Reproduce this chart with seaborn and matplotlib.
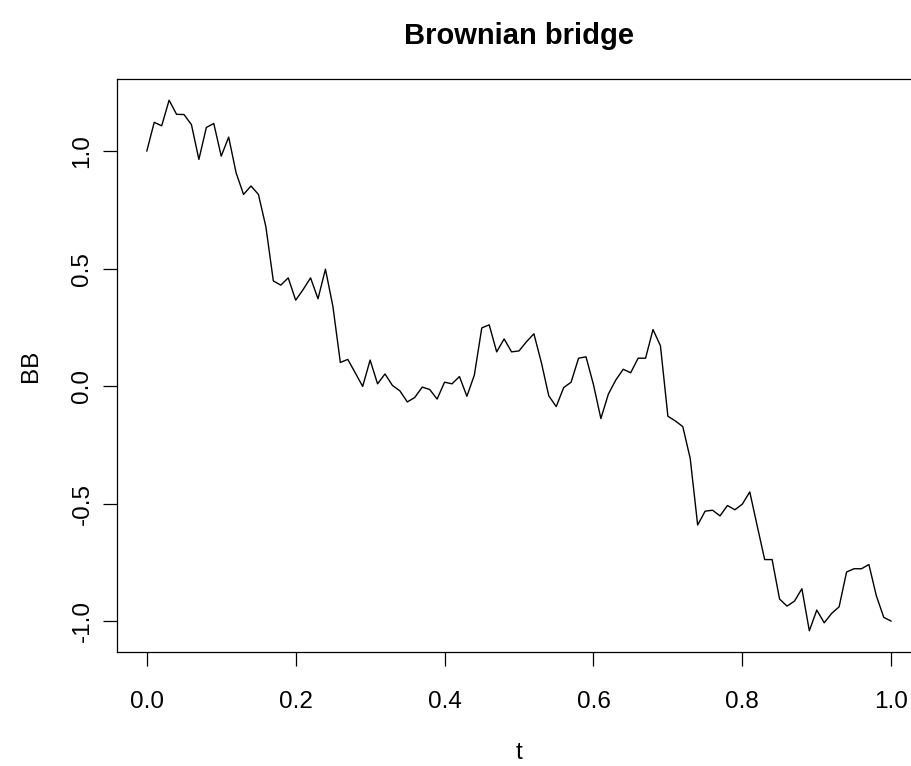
import numpy as np
import pandas as pd
import matplotlib
matplotlib.use("Agg")
import matplotlib.pyplot as plt
import seaborn as sns

# Time grid of the simulated path
t = np.linspace(0.0, 1.0, 101)

# Simulated Brownian bridge values, pinned from 1 to -1
bb = [
    1.000, 1.123, 1.108, 1.217, 1.157, 1.156, 1.113, 0.965, 1.101, 1.118,
    0.979, 1.060, 0.908, 0.816, 0.852, 0.816, 0.678, 0.448, 0.430, 0.461,
    0.366, 0.411, 0.461, 0.372, 0.498, 0.340, 0.101, 0.114, 0.057, -0.001,
    0.111, 0.010, 0.052, 0.003, -0.020, -0.067, -0.048, -0.004, -0.014, -0.055,
    0.017, 0.010, 0.041, -0.043, 0.047, 0.248, 0.261, 0.146, 0.201, 0.146,
    0.150, 0.189, 0.223, 0.101, -0.041, -0.087, -0.006, 0.017, 0.119, 0.125,
    0.007, -0.138, -0.034, 0.026, 0.072, 0.057, 0.119, 0.119, 0.241, 0.172,
    -0.128, -0.148, -0.172, -0.308, -0.591, -0.532, -0.528, -0.552, -0.508, -0.526,
    -0.502, -0.450, -0.595, -0.738, -0.738, -0.906, -0.936, -0.915, -0.862, -1.041,
    -0.953, -1.007, -0.967, -0.939, -0.791, -0.777, -0.777, -0.759, -0.892, -0.984,
    -1.000,
]

x_ticks = [0.0, 0.2, 0.4, 0.6, 0.8, 1.0]
x_tick_labels = ["0.0", "0.2", "0.4", "0.6", "0.8", "1.0"]
y_ticks = [-1.0, -0.5, 0.0, 0.5, 1.0]
y_tick_labels = ["-1.0", "-0.5", "0.0", "0.5", "1.0"]

sns.set_theme(style="white")
plt.rcParams["font.family"] = ["Liberation Sans", "DejaVu Sans"]
plt.rcParams["text.color"] = "black"
plt.rcParams["axes.labelcolor"] = "black"
plt.rcParams["xtick.color"] = "black"
plt.rcParams["ytick.color"] = "black"

fig = plt.figure(figsize=(9.11, 7.66), dpi=100)
ax = fig.add_axes([0.12843, 0.14883, 0.88255, 0.74804])

df = pd.DataFrame({"t": t, "BB": bb})
sns.lineplot(data=df, x="t", y="BB", ax=ax, color="black", linewidth=1.0,
             estimator=None, sort=False)

# Axis ranges padded by 4% of the data range on each side
ax.set_xlim(-0.04, 1.04)
lo, hi = min(bb), max(bb)
span = hi - lo
ax.set_ylim(lo - 0.04 * span, hi + 0.04 * span)

ax.set_xticks(x_ticks)
ax.set_xticklabels(x_tick_labels, fontsize=17.5, color="black")
ax.set_yticks(y_ticks)
ax.set_yticklabels(y_tick_labels, fontsize=17.5, rotation=90, va="center",
                   color="black")

ax.tick_params(axis="both", direction="out", length=10, width=0.9,
               color="black", labelcolor="black", bottom=True, left=True)
ax.tick_params(axis="x", pad=18)
ax.tick_params(axis="y", pad=7)

for side in ax.spines.values():
    side.set_color("black")
    side.set_linewidth(0.9)
# The frame's right edge falls past the canvas
ax.spines["right"].set_visible(False)

ax.set_xlabel("t", fontsize=17.5, labelpad=21, color="black")
ax.set_ylabel("BB", fontsize=17.5, labelpad=21, color="black")
ax.set_title("Brownian bridge", fontsize=21, fontweight="bold", pad=25,
             color="black")

fig.savefig("out.png", dpi=100)
